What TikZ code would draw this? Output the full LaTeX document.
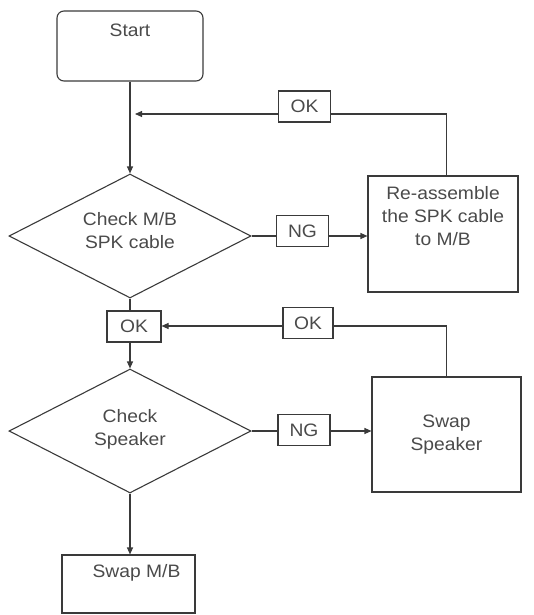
\documentclass[tikz,border=0pt]{standalone}
\usepackage{fontspec}
\setmainfont{Liberation Sans}[FakeStretch=1.07]
\usetikzlibrary{shapes.geometric,arrows.meta,positioning}
\definecolor{linec}{HTML}{3A3A3A}
\definecolor{textc}{HTML}{4A4A4A}
\tikzset{
  x=1pt,y=1pt,
  every node/.style={font=\fontsize{18}{23}\selectfont, text=textc},
  conn/.style={draw=linec, line width=1.1pt},
  arr/.style={conn, -{Triangle[length=7pt,width=6pt]}},
  boxn/.style={draw=linec, line width=1.1pt, rectangle, inner sep=0pt},
  decn/.style={draw=linec, line width=1.1pt, diamond, aspect=1.95, inner sep=0pt,
     minimum width=242pt, minimum height=124pt},
  tagn/.style={boxn, minimum width=52pt, minimum height=31pt},
  lab/.style={align=center, inner sep=0pt}
}
\begin{document}
\begin{tikzpicture}
\useasboundingbox (0,0) rectangle (534,-615);
% nodes
\node[boxn, rounded corners=7pt, minimum width=146pt, minimum height=70pt,
  label={[lab, yshift=16pt]center:Start}] (start) at (130,-46) {};
\node[decn, label={[lab, yshift=5.5pt]center:{Check M/B\\SPK cable}}] (d1) at (130,-236) {};
\node[boxn, minimum width=150pt, minimum height=116pt,
  label={[lab, yshift=18pt]center:{Re-assemble\\the SPK cable\\to M/B}}] (reasm) at (443,-234) {};
\node[tagn] (ok1) at (304.5,-106.5) {OK};
\node[tagn] (ng1) at (302.5,-231) {NG};
\node[tagn, minimum width=54pt] (ok2) at (134,-326.5) {OK};
\node[tagn, minimum width=50pt] (ok3) at (308,-323) {OK};
\node[decn, label={[lab, yshift=2pt]center:{Check\\Speaker}}] (d2) at (130,-431) {};
\node[tagn] (ng2) at (304,-430) {NG};
\node[boxn, minimum width=149pt, minimum height=115pt, align=center] (swspk) at (446.5,-434.5) {Swap\\Speaker};
\node[boxn, minimum width=133pt, minimum height=58pt,
  label={[lab, yshift=11pt, xshift=8pt]center:Swap M/B}] (swmb) at (128.5,-584) {};
% junction points
\coordinate (j1) at (135,-114);
\coordinate (j2) at (161,-326);
\coordinate (j3) at (446.5,-114);
% connectors
\draw[arr] (start.south) -- (d1.north);
\draw[conn] (reasm.north -| j3) -- (j3) -- (ok1.east |- j1);
\draw[arr] (ok1.west |- j1) -- (j1);
\draw[conn] (d1.east) -- (d1.east -| ng1.west);
\draw[arr] (ng1.east |- d1.east) -- (reasm.west |- d1.east);
\draw[conn] (d1.south) -- (d1.south |- ok2.north);
\draw[arr] (d2.north |- ok2.south) -- (d2.north);
\draw[conn] (swspk.north) |- (ok3.east |- j2);
\draw[arr] (ok3.west |- j2) -- (ok2.east |- j2);
\draw[conn] (d2.east) -- (d2.east -| ng2.west);
\draw[arr] (ng2.east |- d2.east) -- (swspk.west |- d2.east);
\draw[arr] (d2.south) -- (d2.south |- swmb.north);
\end{tikzpicture}
\end{document}
